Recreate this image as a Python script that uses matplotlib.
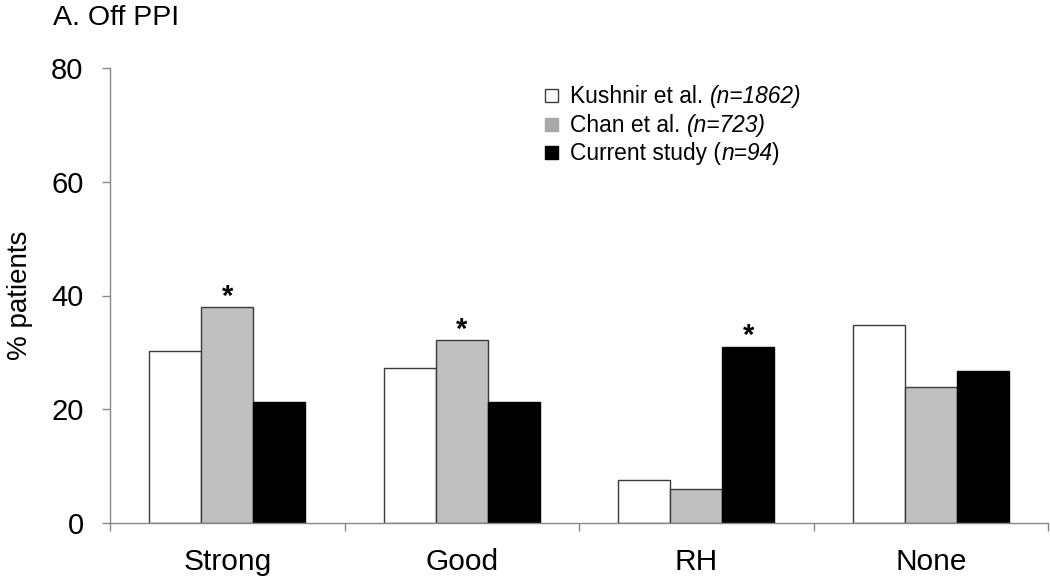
import matplotlib
matplotlib.use("Agg")
import matplotlib.pyplot as plt
import numpy as np
from matplotlib.offsetbox import (AnchoredOffsetbox, HPacker, VPacker,
                                  TextArea, DrawingArea)
from matplotlib.patches import Rectangle

plt.rcParams['font.family'] = ['Liberation Sans', 'DejaVu Sans']

categories = ["Strong", "Good", "RH", "None"]
kushnir = [30.3, 27.3, 7.5, 34.8]
chan = [37.9, 32.1, 5.9, 23.9]
current = [21.2, 21.2, 30.9, 26.7]
series_names = ["Kushnir et al.", "Chan et al.", "Current study"]
series_n = ["1862", "723", "94"]
yticks = [0, 20, 40, 60, 80]
# significance stars: (category index, series index)
stars = [(0, 1), (1, 1), (2, 2)]

fig = plt.figure(figsize=(10.5, 5.8), dpi=100)
ax = fig.add_axes([110/1050, 1-523/580, (1048-110)/1050, (523-68)/580])

x = np.arange(len(categories))
w = 0.222
data = [kushnir, chan, current]
fills = ["white", "#c0c0c0", "black"]
edges = ["#3a3a3a", "#3a3a3a", "black"]
for i, (vals, fc, ec) in enumerate(zip(data, fills, edges)):
    ax.bar(x + (i - 1) * w, vals, width=w, color=fc, edgecolor=ec, linewidth=1.0, zorder=2)

for ci, si in stars:
    ax.text(x[ci] + (si - 1) * w, data[si][ci] + 0.5, "*", ha="center", va="baseline",
            fontsize=21, fontweight="bold", color="black")

ax.set_xlim(-0.5, len(categories) - 0.5)
ax.set_ylim(0, 80)
ax.set_yticks(yticks)
ax.set_yticklabels([str(t) for t in yticks], fontsize=21)
ax.set_xticks(x)
ax.set_xticklabels(categories, fontsize=21.5)
ax.tick_params(axis="x", which="major", length=0, pad=18)
ax.set_xticks(np.arange(-0.5, len(categories)), minor=True)
ax.tick_params(axis="x", which="minor", length=6, color="#888888", width=1)
ax.tick_params(axis="y", length=6, color="#888888", width=1, pad=13)
for s in ["top", "right"]:
    ax.spines[s].set_visible(False)
for s in ["left", "bottom"]:
    ax.spines[s].set_color("#888888")
    ax.spines[s].set_linewidth(1)
ax.set_ylabel("% patients", fontsize=20, labelpad=13)

fig.text(53/1050, 1-18/580, "A. Off PPI", fontsize=20.5, va="center", ha="left")

# custom legend with mixed italic
rows = []
for name, n, fc, ec in zip(series_names, series_n, fills, edges):
    da = DrawingArea(11, 10, 0, 0)
    mfc = "#a8a8a8" if fc == "#c0c0c0" else fc
    mec = "#a8a8a8" if fc == "#c0c0c0" else ec
    da.add_artist(Rectangle((0.5, 0.5), 9.5, 9.5, facecolor=mfc, edgecolor=mec, linewidth=1))
    tp = {"fontsize": 16.4}
    ti = {"fontsize": 16.4, "style": "italic"}
    if name == "Current study":
        parts = [TextArea(name + " (", textprops=tp), TextArea("n=" + n, textprops=ti),
                 TextArea(")", textprops=tp)]
    else:
        parts = [TextArea(name + " ", textprops=tp), TextArea("(n=" + n + ")", textprops=ti)]
    texts = HPacker(children=parts, align="baseline", pad=0, sep=0)
    rows.append(HPacker(children=[da, texts], align="baseline", pad=0, sep=8))
box = VPacker(children=rows, align="left", pad=0, sep=4)
anch = AnchoredOffsetbox(loc="upper left", child=box, frameon=False,
                         bbox_to_anchor=(544/1050, 1-85/580), bbox_transform=fig.transFigure,
                         borderpad=0, pad=0)
ax.add_artist(anch)

fig.savefig("out.png", dpi=100)
